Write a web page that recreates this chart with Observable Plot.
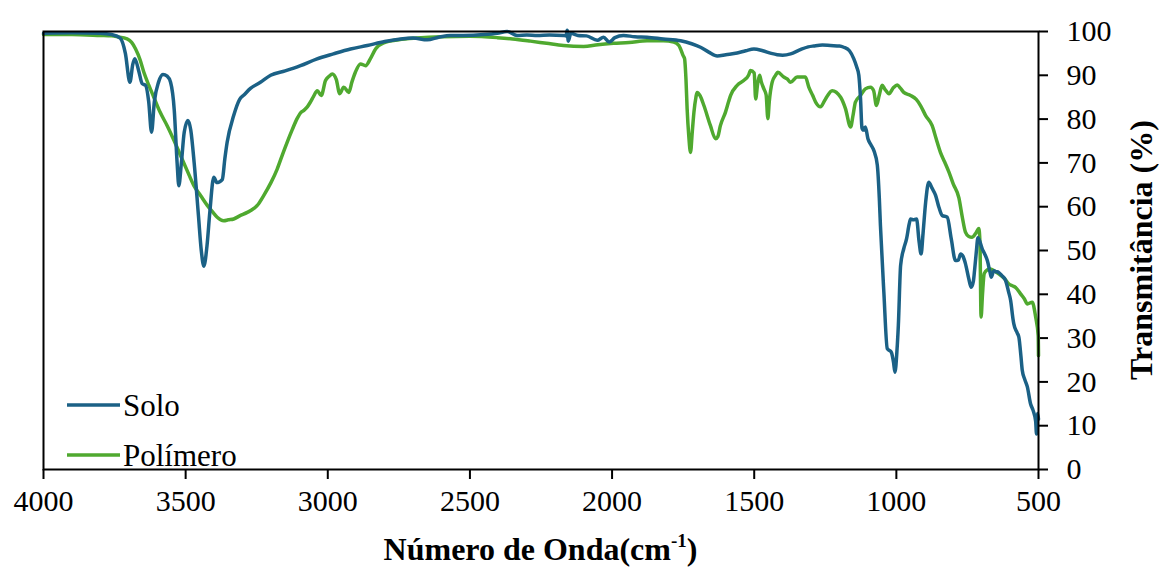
<!DOCTYPE html>
<html>
<head>
<meta charset="utf-8">
<script src="https://cdn.jsdelivr.net/npm/d3@7"></script>
<script src="https://cdn.jsdelivr.net/npm/@observablehq/plot@0.6"></script>
<style>
  html, body { margin: 0; padding: 0; background: #fff; }
  #chart { position: relative; width: 1159px; height: 567px; }
</style>
</head>
<body>
<div id="chart"></div>
<script>
const seriesNames = ["Solo", "Polímero"];
const seriesColors = ["#1b6186", "#4fa92f"];
const xTicks = [4000, 3500, 3000, 2500, 2000, 1500, 1000, 500];
const yTicks = [0, 10, 20, 30, 40, 50, 60, 70, 80, 90, 100];
const xLabel = "Número de Onda(cm";
const yLabel = "Transmitância (%)";

const soloWn = [4000,3900,3800,3760,3730,3712,3696,3686,3679,3665,3653,3641,3630,3620,3610,3595,3580,3565,3553,3540,3530,3524,3515,3505,3492,3482,3470,3455,3445,3436,3425,3415,3401,3390,3383,3371,3362,3354,3331,3310,3295,3272,3237,3201,3150,3096,3040,2980,2920,2861,2800,2744,2700,2650,2610,2568,2523,2450,2404,2369,2334,2300,2263,2220,2171,2162,2158,2154,2145,2120,2090,2052,2030,2010,1990,1960,1920,1877,1820,1759,1720,1689,1660,1630,1600,1560,1530,1501,1470,1440,1419,1400,1372,1340,1310,1290,1260,1232,1200,1185,1165,1150,1140,1132,1126,1121,1116,1109,1100,1090,1079,1067,1060,1056,1044,1032,1025,1018,1010,1005,998,993,985,974,964,955,950,940,929,920,913,906,897,886,875,862,850,839,821,807,792,782,774,765,757,745,737,729,725,719,713,705,698,690,680,670,666,657,650,640,628,616,605,598,590,587,575,569,562,557,548,539,528,519,510,507,503,500];
const soloT = [99.6,99.7,99.6,99.3,98.5,95,88.4,92.5,93.8,91,88.1,87.7,84,77.0,84,88.5,90.2,89.8,88.4,82,70,64.8,70,77,79.7,77.5,70,58,50,46.4,51,58.7,66.7,65.5,65.6,66.2,71,74.7,80.8,84.5,85.5,87,88.4,90,91,92.2,93.7,94.9,96,96.8,97.7,98.3,98.5,98.1,98.7,99.1,99.1,99.3,99.6,100,99.1,99.2,99.1,99.2,99.1,99,100.3,97.8,99.6,99.1,99,98.0,98.7,97.6,98.6,99.1,98.8,98.7,98.3,97.9,97.2,96.4,95.3,94.4,94.7,95.1,95.6,96.0,95.6,95,94.7,94.6,94.9,95.8,96.5,96.7,96.9,96.8,96.7,96.4,95.6,93.8,92,90.0,84.6,78.0,77.5,78.2,75.5,74.2,72.8,69.5,62,55.7,40.5,27.6,27.2,26.8,24.5,22.2,27,32.9,46.6,50.4,52.7,56,57.2,57.0,57.2,52,49.2,54,61.0,65.6,64.3,62.6,59.8,58.0,57.6,52.7,47.7,47.8,49.2,48.6,47.0,43.5,41.6,43,45.4,49.5,52.9,51.8,50.4,49.3,47.7,44.9,43.9,45.4,45.2,45.0,44.2,43.2,40.5,38.6,34.5,33.3,31.2,30.2,26,22.6,20.5,18.8,15.0,13.5,11,8.1,12.8,11.5];

const polWn = [4000,3900,3800,3760,3740,3706,3690,3676,3660,3647,3630,3612,3590,3565,3540,3518,3495,3471,3447,3424,3405,3389,3366,3350,3331,3310,3283,3260,3248,3225,3200,3178,3160,3143,3125,3108,3095,3084,3072,3061,3050,3037,3023,3008,2995,2984,2970,2958,2944,2926,2915,2903,2885,2867,2850,2832,2803,2750,2686,2600,2500,2404,2350,2287,2230,2171,2100,2050,1995,1940,1877,1820,1783,1765,1759,1750,1745,1740,1736,1730,1724,1718,1712,1705,1701,1690,1677,1654,1636,1628,1619,1601,1590,1583,1560,1537,1520,1513,1500,1495,1488,1481,1475,1466,1458,1452,1447,1437,1425,1417,1396,1384,1372,1349,1320,1308,1295,1284,1267,1250,1226,1196,1179,1161,1152,1144,1126,1109,1091,1080,1070,1060,1050,1040,1026,1010,997,985,974,950,930,915,897,874,860,845,830,815,800,780,768,757,745,734,720,710,706,702,697,691,680,669,655,640,620,605,590,581,563,550,539,522,510,501,500];
const polT = [99.3,99.3,99.1,99.0,98.8,98.3,97.5,96.0,93.5,90.7,87.8,85.0,81.6,78.5,75,71.7,68.3,64.8,62.5,60.3,58.8,57.6,56.8,57,57.2,57.9,58.7,59.6,60.3,62.6,65.5,68.6,71.8,74.7,77.6,80.1,81.5,82.0,82.8,83.9,85.2,86.5,85.4,88.8,89.8,90.3,89,85.8,87.3,86.1,88.5,90.7,92.6,92.2,93.8,96.0,97.4,98.1,98.5,98.8,98.9,98.6,98.3,97.8,97.3,96.8,96.6,97,97.3,97.5,97.9,97.9,97.6,96.8,96.0,94.5,93.8,89,82.4,76,72.4,77,81.6,85,86.1,85.3,83.1,78.5,75.5,76,78.5,81.6,84,85.4,87.7,88.8,90,91.1,90.5,84.6,88,90.0,88.5,86.9,85.5,80.1,84,88.4,90,90.7,89.6,89.2,88.4,89.6,89.6,87.3,85.5,83.9,82.8,84.5,86.5,85.0,82.4,78.2,81,83.9,85.4,86.9,87.3,86.5,83.1,85.5,87.7,86.8,85.8,87.2,87.8,87,86.1,85.4,84.5,83.1,80.8,78.5,75.5,72.4,70.2,67.9,65.2,62.0,57.6,54.2,53.2,53.0,54,55.0,52,34.8,40,44.7,45.6,45.8,45.3,44.7,43.6,42.4,41.9,41.6,40.1,39,37.8,38.2,34.8,30.5,26];

const solo = soloWn.map((w, i) => ({wn: w, t: soloT[i], s: seriesNames[0]}));
const pol = polWn.map((w, i) => ({wn: w, t: polT[i], s: seriesNames[1]}));

const W = 1159, H = 567;
const mL = 43, mR = 121, mT = 31, mB = 98;
const ff = "'Liberation Serif', 'Times New Roman', serif";

const plot = Plot.plot({
  width: W,
  height: H,
  marginLeft: mL,
  marginRight: mR,
  marginTop: mT,
  marginBottom: mB,
  style: {fontFamily: ff, fontSize: "30px", color: "#000", background: "#fff"},
  x: {domain: [4000, 500], ticks: xTicks, tickFormat: () => "", label: null, tickSize: 10},
  y: {domain: [0, 100], ticks: yTicks, tickFormat: () => "", label: null, axis: "right", tickSize: 9},
  marks: [
    Plot.line(pol, {x: "wn", y: "t", stroke: seriesColors[1], strokeWidth: 3.5, curve: "monotone-x"}),
    Plot.line(solo, {x: "wn", y: "t", stroke: seriesColors[0], strokeWidth: 3.5, curve: "monotone-x"}),
    Plot.frame({stroke: "#000", strokeWidth: 2}),
    Plot.text(xTicks, {x: d => d, frameAnchor: "bottom", dy: 32, text: d => String(d), fontSize: 30, fontFamily: ff, fill: "#000", lineAnchor: "middle", textAnchor: "middle"}),
    Plot.text(yTicks, {y: d => d, frameAnchor: "right", dx: 28, text: d => String(d), fontSize: 30, fontFamily: ff, fill: "#000", textAnchor: "start", lineAnchor: "middle"})
  ]
});

document.getElementById("chart").appendChild(plot);

const svg = d3.select(plot);
svg.selectAll('g[aria-label$="tick"]').attr("stroke-width", 2);

// x-axis title with superscript
const xt = svg.append("text")
  .attr("x", (mL + (W - mR)) / 2)
  .attr("y", 560)
  .attr("text-anchor", "middle")
  .attr("font-family", ff)
  .attr("font-size", 32)
  .attr("font-weight", "bold")
  .attr("fill", "#000");
xt.append("tspan").text(xLabel);
xt.append("tspan").attr("font-size", 19).attr("dy", -13).text("-1");
xt.append("tspan").attr("dy", 13).text(")");

// y-axis title (right)
svg.append("text")
  .attr("transform", `translate(1152,${(mT + (H - mB)) / 2}) rotate(-90)`)
  .attr("text-anchor", "middle")
  .attr("font-family", ff)
  .attr("font-size", 32)
  .attr("font-weight", "bold")
  .attr("fill", "#000")
  .text(yLabel);

// legend
const legY = [405, 455];
seriesNames.forEach((name, i) => {
  svg.append("line")
    .attr("x1", 67).attr("x2", 120)
    .attr("y1", legY[i]).attr("y2", legY[i])
    .attr("stroke", seriesColors[i]).attr("stroke-width", 3.5);
  svg.append("text")
    .attr("x", 123).attr("y", legY[i])
    .attr("dy", "0.35em")
    .attr("text-anchor", "start")
    .attr("font-family", ff)
    .attr("font-size", 31)
    .attr("fill", "#000")
    .text(name);
});
</script>
</body>
</html>
